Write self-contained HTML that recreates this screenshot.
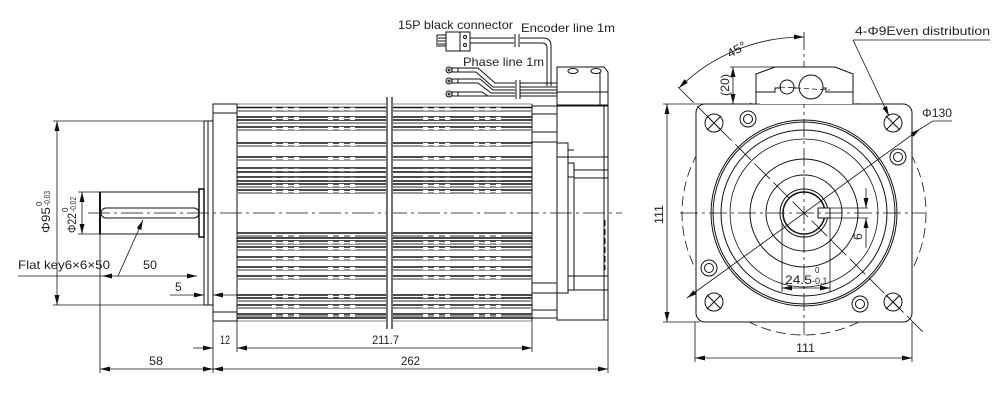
<!DOCTYPE html>
<html><head><meta charset="utf-8"><style>
html,body{margin:0;padding:0;background:#fff;}
svg{display:block;}
text{font-family:"Liberation Sans",sans-serif;fill:#222;}
</style></head><body>
<svg width="1000" height="409" viewBox="0 0 1000 409" xmlns="http://www.w3.org/2000/svg">
<defs>
<marker id="ar" viewBox="0 0 10 6" refX="10" refY="3" markerWidth="10" markerHeight="6" orient="auto-start-reverse" markerUnits="userSpaceOnUse"><path d="M0,0.5 L10,3 L0,5.5 z" fill="#111"/></marker>
</defs>
<g stroke="#111" fill="none" stroke-width="1">

<line x1="88" y1="213" x2="622" y2="213" stroke-dasharray="22,4,3,4" stroke-width="0.8"/>
<rect x="100" y="192" width="99" height="42"/>
<line x1="100" y1="192" x2="100" y2="234" stroke-width="2"/>
<rect x="101" y="208" width="98" height="10" rx="5"/>
<rect x="199" y="189" width="5" height="48" stroke-width="1.5"/>
<rect x="204" y="121" width="4" height="184"/>
<line x1="208" y1="121" x2="213" y2="121"/><line x1="208" y1="305" x2="213" y2="305"/>
<rect x="213" y="104" width="24" height="217"/>
<line x1="213" y1="113" x2="237" y2="113"/><line x1="213" y1="312" x2="237" y2="312"/>
<line x1="237" y1="104" x2="532" y2="104" stroke-width="0.6"/>
<line x1="237" y1="321" x2="532" y2="321" stroke-width="0.6"/>
<line x1="532" y1="104" x2="532" y2="321"/>
<rect x="532" y="106" width="25" height="212"/>
<line x1="532" y1="114" x2="557" y2="114"/><line x1="532" y1="132" x2="557" y2="132"/>
<line x1="532" y1="142" x2="557" y2="142"/><line x1="532" y1="283" x2="557" y2="283"/>
<line x1="532" y1="293" x2="557" y2="293"/><line x1="532" y1="310" x2="557" y2="310"/>
<rect x="557" y="106" width="51" height="214"/>
<line x1="604" y1="106" x2="604" y2="320"/>
<rect x="557" y="143" width="11" height="150"/>
<line x1="568" y1="150" x2="574" y2="150"/>
<rect x="568" y="163" width="6" height="14"/><rect x="568" y="276" width="6" height="14"/>
<line x1="574" y1="170" x2="608" y2="170"/><line x1="574" y1="178" x2="608" y2="178"/>
<line x1="557" y1="157" x2="608" y2="157"/>
<line x1="574" y1="276" x2="608" y2="276"/><line x1="574" y1="290" x2="608" y2="290"/>
<line x1="574" y1="178" x2="574" y2="276"/>
<line x1="605" y1="220" x2="605" y2="270" stroke-dasharray="6,3"/>
<path d="M557,105 L557,67 L604,67 L608,72 L608,105 Z"/>
<line x1="557" y1="92" x2="608" y2="92"/>
<line x1="600" y1="72" x2="600" y2="105"/>
<ellipse cx="573" cy="71" rx="5" ry="2.5"/><ellipse cx="596" cy="71" rx="5" ry="2.5"/>
</g>

<g>
<g stroke="#111" stroke-width="1.6">
<line x1="237" x2="532" y1="107.5" y2="107.5"/><line x1="237" x2="532" y1="117" y2="117"/><line x1="237" x2="532" y1="120" y2="120"/>
<line x1="237" x2="532" y1="127" y2="127"/><line x1="237" x2="532" y1="143" y2="143"/><line x1="237" x2="532" y1="157" y2="157"/>
<line x1="237" x2="532" y1="168" y2="168"/><line x1="237" x2="532" y1="172" y2="172"/><line x1="237" x2="532" y1="177" y2="177"/>
<line x1="237" x2="532" y1="181" y2="181"/><line x1="237" x2="532" y1="184" y2="184"/><line x1="237" x2="532" y1="190" y2="190"/>
<line x1="237" x2="532" y1="233" y2="233"/><line x1="237" x2="532" y1="238" y2="238"/><line x1="237" x2="532" y1="241" y2="241"/>
<line x1="237" x2="532" y1="247" y2="247"/><line x1="237" x2="532" y1="257" y2="257"/><line x1="237" x2="532" y1="267" y2="267"/>
<line x1="237" x2="532" y1="276" y2="276"/><line x1="237" x2="532" y1="295" y2="295"/><line x1="237" x2="532" y1="298" y2="298"/>
<line x1="237" x2="532" y1="305" y2="305"/><line x1="237" x2="532" y1="314" y2="314"/><line x1="237" x2="532" y1="318" y2="318"/>
</g>
<g stroke="#888" stroke-width="1.8">
<line x1="237" x2="532" y1="111" y2="111"/><line x1="237" x2="532" y1="123" y2="123"/><line x1="237" x2="532" y1="130" y2="130"/>
<line x1="237" x2="532" y1="146" y2="146"/><line x1="237" x2="532" y1="160" y2="160"/><line x1="237" x2="532" y1="187" y2="187"/>
<line x1="237" x2="532" y1="193" y2="193"/><line x1="237" x2="532" y1="236" y2="236"/><line x1="237" x2="532" y1="244" y2="244"/>
<line x1="237" x2="532" y1="250" y2="250"/><line x1="237" x2="532" y1="260" y2="260"/><line x1="237" x2="532" y1="270" y2="270"/>
<line x1="237" x2="532" y1="279" y2="279"/><line x1="237" x2="532" y1="301" y2="301"/><line x1="237" x2="532" y1="308" y2="308"/>
<line x1="237" x2="532" y1="316" y2="316"/>
</g>
<g stroke="#fff" stroke-width="3">
<path stroke-dasharray="4,7,5,6,5,29,5,6,5,6,5,68,5,6,5,6,5,24,5,6,5,6,5,100"
 d="M272,109H532M272,118.5H532M272,128.5H532M272,144.5H532M272,158.5H532M272,170H532M272,179H532M272,185.5H532M272,191.5H532M272,235.5H532M272,242.5H532M272,248.5H532M272,258.5H532M272,268.5H532M272,277.5H532M272,296.5H532M272,306.5H532M272,315.5H532"/>
</g>
<rect x="386" y="97" width="7" height="232" fill="#fff" stroke="none"/>
<g stroke="#111" stroke-width="1.2"><line x1="387" y1="97" x2="387" y2="329"/><line x1="392" y1="97" x2="392" y2="329"/></g>
</g>

<g stroke="#111" fill="none" stroke-width="1">
<rect x="437" y="35" width="9" height="11"/>
<line x1="438" y1="38" x2="446" y2="38"/><line x1="438" y1="41" x2="446" y2="41"/><line x1="438" y1="44" x2="446" y2="44"/>
<rect x="446" y="32" width="24" height="19"/>
<line x1="460" y1="32" x2="460" y2="51"/>
<circle cx="465" cy="37" r="1.5"/><circle cx="465" cy="45" r="1.5"/>
<path d="M470,38 H543 Q551,38 551,46 V86"/>
<path d="M470,43 H542 Q547,43 547,48 V86"/>
<rect x="514" y="34" width="6" height="12" fill="#fff" stroke="none"/>
<line x1="515" y1="34" x2="515" y2="47"/><line x1="519" y1="34" x2="519" y2="47"/>
<circle cx="449" cy="70" r="3"/><circle cx="449" cy="70" r="1"/>
<circle cx="449" cy="81" r="3"/><circle cx="449" cy="81" r="1"/>
<circle cx="449" cy="94" r="3"/><circle cx="449" cy="94" r="1"/>
<rect x="452" y="68" width="6" height="4"/><rect x="452" y="79" width="6" height="4"/><rect x="452" y="92" width="6" height="4"/>
<path d="M458,68 H478 L495,83 H557"/>
<path d="M458,72 H476 L493,87 H557"/>
<path d="M458,79 H480 L493,90 H557"/>
<path d="M458,83 H478 L491,93 H557"/>
<path d="M458,92 H482 L488,96 H557"/>
<path d="M458,96 H557"/>
<rect x="515" y="80" width="5" height="19" fill="#fff" stroke="none"/>
<line x1="516" y1="80" x2="516" y2="99"/><line x1="520" y1="80" x2="520" y2="99"/>

<line x1="53" y1="121" x2="204" y2="121" stroke-width="0.8"/>
<line x1="53" y1="305" x2="204" y2="305" stroke-width="0.8"/>
<line x1="57" y1="121" x2="57" y2="305" marker-start="url(#ar)" marker-end="url(#ar)" stroke-width="0.8"/>
<line x1="78" y1="192" x2="100" y2="192" stroke-width="0.8"/>
<line x1="78" y1="234" x2="100" y2="234" stroke-width="0.8"/>
<line x1="82" y1="192" x2="82" y2="234" marker-start="url(#ar)" marker-end="url(#ar)" stroke-width="0.8"/>
<line x1="18" y1="276" x2="102" y2="276" stroke-width="0.8"/>
<line x1="102" y1="276" x2="197" y2="276" marker-start="url(#ar)" marker-end="url(#ar)" stroke-width="0.8"/>
<line x1="118" y1="276" x2="143" y2="220" marker-end="url(#ar)" stroke-width="0.8"/>
<line x1="170" y1="295" x2="204" y2="295" marker-end="url(#ar)" stroke-width="0.8"/>
<line x1="240" y1="295" x2="213" y2="295" marker-end="url(#ar)" stroke-width="0.8"/>
<line x1="100" y1="234" x2="100" y2="373" stroke-width="0.8"/>
<line x1="213" y1="321" x2="213" y2="373" stroke-width="0.8"/>
<line x1="237" y1="321" x2="237" y2="352" stroke-width="0.8"/>
<line x1="532" y1="321" x2="532" y2="352" stroke-width="0.8"/>
<line x1="608" y1="320" x2="608" y2="373" stroke-width="0.8"/>
<line x1="193" y1="348" x2="213" y2="348" marker-end="url(#ar)" stroke-width="0.8"/>
<line x1="237" y1="348" x2="532" y2="348" marker-start="url(#ar)" marker-end="url(#ar)" stroke-width="0.8"/>
<line x1="100" y1="369" x2="213" y2="369" marker-start="url(#ar)" marker-end="url(#ar)" stroke-width="0.8"/>
<line x1="213" y1="369" x2="608" y2="369" marker-start="url(#ar)" marker-end="url(#ar)" stroke-width="0.8"/>

<circle cx="804" cy="213" r="122" stroke-dasharray="10,5" stroke-width="0.8"/>
<rect x="696" y="104" width="216" height="218" rx="9" fill="#fff"/>
<circle cx="804" cy="213" r="93"/><circle cx="804" cy="213" r="91"/>
<circle cx="804" cy="213" r="83"/><circle cx="804" cy="213" r="74" stroke-width="0.8"/>
<circle cx="804" cy="213" r="54"/><circle cx="804" cy="213" r="38"/>
<circle cx="804" cy="213" r="24"/><circle cx="804" cy="213" r="21" stroke-width="1.5"/>
<circle cx="714" cy="123" r="9"/><circle cx="893" cy="123" r="9"/><circle cx="714" cy="302" r="9"/><circle cx="893" cy="302" r="9"/>
<path d="M707,116 L721,130 M721,116 L707,130 M886,116 L900,130 M900,116 L886,130 M707,295 L721,309 M721,295 L707,309 M886,295 L900,309 M900,295 L886,309"/>
<circle cx="748" cy="119" r="8"/><circle cx="748" cy="119" r="4.5"/>
<circle cx="898" cy="157" r="8"/><circle cx="898" cy="157" r="4.5"/>
<circle cx="709" cy="268" r="8"/><circle cx="709" cy="268" r="4.5"/>
<circle cx="860" cy="304" r="8"/><circle cx="860" cy="304" r="4.5"/>
<rect x="818" y="208" width="12" height="10" fill="#fff"/>
<line x1="830" y1="208" x2="868" y2="208" stroke-width="0.8"/><line x1="830" y1="218" x2="868" y2="218" stroke-width="0.8"/>
<line x1="866" y1="188" x2="866" y2="208" marker-end="url(#ar)" stroke-width="0.8"/>
<line x1="866" y1="248" x2="866" y2="218" marker-end="url(#ar)" stroke-width="0.8"/>
<line x1="782" y1="222" x2="782" y2="292" stroke-width="0.8"/><line x1="830" y1="218" x2="830" y2="292" stroke-width="0.8"/>
<line x1="782" y1="288" x2="830" y2="288" marker-start="url(#ar)" marker-end="url(#ar)" stroke-width="0.8"/>
<line x1="680" y1="213" x2="925" y2="213" stroke-dasharray="18,4,3,4" stroke-width="0.8"/>
<line x1="804" y1="32" x2="804" y2="335" stroke-dasharray="18,4,3,4" stroke-width="0.8"/>
<line x1="678" y1="87" x2="925" y2="334" stroke-dasharray="22,5" stroke-width="0.8"/>
<line x1="687" y1="298" x2="920" y2="129" stroke-width="0.8" marker-start="url(#ar)" marker-end="url(#ar)"/>
<path d="M920,129 L933,121 H952" stroke-width="0.8"/>
<path d="M756,104 V74 L775,67 H835 L853,74 V104" fill="#fff"/>
<path d="M756,92 H775 V88 H781 M793,88 H797 M823,88 H826 V92 H853" />
<line x1="780" y1="87" x2="830" y2="90" stroke-dasharray="5,3" stroke-width="0.7"/>
<circle cx="787" cy="87" r="7" fill="none"/><circle cx="811" cy="87" r="12" fill="none"/>
<line x1="730" y1="67" x2="835" y2="67" stroke-width="0.8"/>
<line x1="733" y1="67" x2="733" y2="104" marker-start="url(#ar)" marker-end="url(#ar)" stroke-width="0.8"/>
<line x1="663" y1="104" x2="760" y2="104" stroke-width="0.8"/>
<line x1="663" y1="322" x2="700" y2="322" stroke-width="0.8"/>
<line x1="667" y1="104" x2="667" y2="322" marker-start="url(#ar)" marker-end="url(#ar)" stroke-width="0.8"/>
<line x1="695" y1="322" x2="695" y2="362" stroke-width="0.8"/><line x1="912" y1="322" x2="912" y2="362" stroke-width="0.8"/>
<line x1="695" y1="358" x2="912" y2="358" marker-start="url(#ar)" marker-end="url(#ar)" stroke-width="0.8"/>
<path d="M679,88 A176,176 0 0 1 804,37" marker-start="url(#ar)" marker-end="url(#ar)" stroke-width="0.8"/>
<line x1="853" y1="40" x2="990" y2="40" stroke-width="0.8"/>
<line x1="853" y1="40" x2="889" y2="116" marker-end="url(#ar)" stroke-width="0.8"/>
</g>

<g font-size="12">
<text x="398" y="29" textLength="115" lengthAdjust="spacingAndGlyphs">15P black connector</text>
<text x="521" y="32" textLength="94" lengthAdjust="spacingAndGlyphs">Encoder line 1m</text>
<text x="463" y="66" textLength="81" lengthAdjust="spacingAndGlyphs">Phase line 1m</text>
<text x="18" y="269" textLength="92" lengthAdjust="spacingAndGlyphs">Flat key6×6×50</text>
<text x="143" y="269" textLength="14" lengthAdjust="spacingAndGlyphs">50</text>
<text x="175" y="291">5</text>
<text x="220" y="344" textLength="10" lengthAdjust="spacingAndGlyphs">12</text>
<text x="372" y="344" textLength="27" lengthAdjust="spacingAndGlyphs">211.7</text>
<text x="149" y="365" textLength="14" lengthAdjust="spacingAndGlyphs">58</text>
<text x="401" y="365" textLength="19" lengthAdjust="spacingAndGlyphs">262</text>
<text transform="translate(50,233) rotate(-90)" textLength="26" lengthAdjust="spacingAndGlyphs">Φ95</text>
<text transform="translate(50,206) rotate(-90)" font-size="8" textLength="15" lengthAdjust="spacingAndGlyphs">-0.03</text>
<text transform="translate(42,206) rotate(-90)" font-size="8">0</text>
<text transform="translate(76,233) rotate(-90)" textLength="20" lengthAdjust="spacingAndGlyphs">Φ22</text>
<text transform="translate(76,212) rotate(-90)" font-size="8" textLength="15" lengthAdjust="spacingAndGlyphs">-0.02</text>
<text transform="translate(68,212) rotate(-90)" font-size="8">0</text>

<text x="855" y="35" textLength="135" lengthAdjust="spacingAndGlyphs">4-Φ9Even distribution</text>
<text x="922" y="117" textLength="30" lengthAdjust="spacingAndGlyphs">Φ130</text>
<text transform="translate(730,58) rotate(-30)" textLength="20" lengthAdjust="spacingAndGlyphs">45°</text>
<text transform="translate(729,96) rotate(-90)" textLength="22" lengthAdjust="spacingAndGlyphs">(20)</text>
<text transform="translate(663,224) rotate(-90)" textLength="19" lengthAdjust="spacingAndGlyphs">111</text>
<text x="796" y="352" textLength="19" lengthAdjust="spacingAndGlyphs">111</text>
<text transform="translate(862,240) rotate(-90)">6</text>
<text x="785" y="284" textLength="27" lengthAdjust="spacingAndGlyphs">24.5</text>
<text x="815" y="273" font-size="8">0</text>
<text x="812" y="284" font-size="9">-0.1</text>
</g>
</svg>
</body></html>
